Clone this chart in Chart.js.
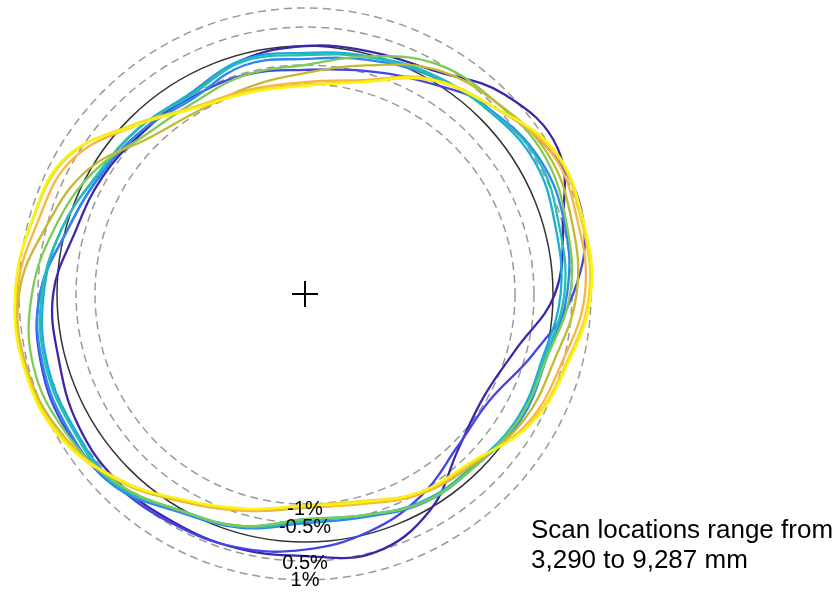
<!DOCTYPE html>
<html>
<head>
<meta charset="utf-8">
<script src="https://cdn.jsdelivr.net/npm/chart.js@4.4.1/dist/chart.umd.min.js"></script>
<style>
  html, body { margin: 0; padding: 0; background: #fff; }
  #wrap { width: 840px; height: 592px; }
</style>
</head>
<body>
<div id="wrap"><canvas id="ovalChart" width="840" height="592"></canvas></div>
<script>
// angles (deg, counter-clockwise from the right) where each scan was read
const angles = [0, 15, 30, 45, 60, 75, 90, 105, 120, 135, 150, 165,
                180, 195, 210, 225, 240, 255, 270, 285, 300, 315, 330, 345];

// radial deviation from the nominal radius, in %
const scanA = [0.05, 0.5, 1.15, 0.9, 0.26, 0.08, 0.0, -0.15, -0.45, -0.5, -0.37, -0.26, 0.1, 0.18, 0.37, 0.45, 0.4, 0.4, 0.37, 0.52, 0.05, -0.8, -1.1, -0.8];
const scanB = [0.53, 1.05, 0.95, 0.45, -0.1, -0.45, -0.63, -0.55, -0.55, -0.45, -0.3, -0.05, 0.45, 0.66, 0.7, 0.55, 0.45, 0.38, 0.2, -0.05, -0.4, -0.85, -0.92, -0.33];
const scanC = [0.37, 0.55, 0.6, 0.35, 0.1, -0.15, -0.34, -0.3, -0.6, -0.45, -0.3, -0.05, 0.45, 0.62, 0.65, 0.6, 0.1, -0.15, -0.5, -0.45, -0.2, -0.15, 0.05, 0.05];
const scanD = [0.2, 0.3, 0.45, 0.3, 0.15, -0.05, -0.18, -0.15, -0.45, -0.35, -0.24, 0.1, 0.35, 0.5, 0.5, 0.5, 0.05, -0.2, -0.6, -0.5, -0.25, -0.2, -0.05, -0.05];
const scanE = [0.3, 0.4, 0.55, 0.32, 0.12, -0.08, -0.24, -0.2, -0.5, -0.34, -0.22, 0.1, 0.4, 0.55, 0.55, 0.55, 0.05, -0.18, -0.55, -0.5, -0.22, -0.2, 0.0, 0.0];
const scanF = [0.45, 0.6, 0.75, 0.6, 0.45, -0.05, -0.5, -0.55, -0.7, -0.6, -0.1, 0.28, 0.66, 0.87, 0.75, 0.5, 0.05, -0.2, -0.6, -0.5, -0.22, -0.15, 0.0, 0.05];
const scanG = [0.62, 0.75, 0.85, 0.6, 0.3, -0.3, -0.71, -0.88, -0.95, -0.72, 0.05, 0.5, 1.0, 1.05, 0.85, 0.42, -0.2, -0.62, -0.9, -0.82, -0.45, -0.22, 0.12, 0.26];
const scanH = [0.84, 0.9, 0.95, 0.45, 0.02, -0.7, -0.95, -0.95, -0.82, -0.25, 0.55, 0.76, 1.05, 1.08, 0.92, 0.42, -0.22, -0.62, -0.92, -0.8, -0.45, -0.25, 0.25, 0.47];
const scanI = [0.95, 1.0, 1.02, 0.45, -0.02, -0.75, -1.02, -1.0, -0.84, -0.2, 0.68, 0.9, 1.1, 1.1, 0.9, 0.38, -0.25, -0.66, -0.97, -0.88, -0.5, -0.28, 0.3, 0.58];
const scanJ = [1.0, 1.05, 1.05, 0.45, 0.0, -0.75, -1.05, -1.03, -0.86, -0.25, 0.72, 0.92, 1.1, 1.12, 0.95, 0.4, -0.26, -0.68, -0.95, -0.85, -0.5, -0.3, 0.33, 0.63];

const scans = [scanA, scanB, scanC, scanD, scanE, scanF, scanG, scanH, scanI, scanJ];
const scanColors = ['#3e26a8', '#4545e6', '#2b88f0', '#17aedc', '#27bdb3', '#7ecb58', '#c4b92f', '#fbb43c', '#f6d62a', '#f8f50f'];

// reference rings (% deviation) and their labels
const ringLevels = [-1, -0.5, 0.5, 1];
const ringLabels = ['-1%', '-0.5%', '0.5%', '1%'];
const noteLines = ['Scan locations range from', '3,290 to 9,287 mm'];

// plot radius units per 1 % of deviation (exaggerated view)
const EXAG = 0.1532;
const labelNudge = [5, 4, 2, 0];

// polar -> x/y, with wrap points at both ends so the spline closes smoothly
function toPoints(devs) {
    const pts = devs.map((d, i) => {
        const t = angles[i] * Math.PI / 180;
        const r = 1 + d * EXAG;
        return { x: r * Math.cos(t), y: r * Math.sin(t) };
    });
    const n = pts.length;
    return [pts[n - 1], ...pts, pts[0], pts[1]];
}

const overlay = {
    id: 'overlay',
    beforeDatasetsDraw(chart) {
        const { ctx, scales: { x, y } } = chart;
        const cx = x.getPixelForValue(0), cy = y.getPixelForValue(0);
        const unit = x.getPixelForValue(1) - cx;
        ctx.save();
        ctx.lineWidth = 1.5;
        ctx.strokeStyle = '#999999';
        ctx.setLineDash([8, 5]);
        ringLevels.forEach(p => {
            ctx.beginPath();
            ctx.arc(cx, cy, (1 + p * EXAG) * unit, 0, 2 * Math.PI);
            ctx.stroke();
        });
        ctx.setLineDash([]);
        ctx.strokeStyle = '#333333';
        ctx.beginPath();
        ctx.arc(cx, cy, unit, 0, 2 * Math.PI);
        ctx.stroke();
        ctx.restore();
    },
    afterDatasetsDraw(chart) {
        const { ctx, scales: { x, y } } = chart;
        const cx = x.getPixelForValue(0), cy = y.getPixelForValue(0);
        const unit = x.getPixelForValue(1) - cx;
        ctx.save();
        // centre mark
        ctx.strokeStyle = '#000';
        ctx.lineWidth = 2;
        ctx.beginPath();
        ctx.moveTo(cx - 13, cy); ctx.lineTo(cx + 13, cy);
        ctx.moveTo(cx, cy - 13); ctx.lineTo(cx, cy + 13);
        ctx.stroke();
        // ring labels
        ctx.fillStyle = '#000';
        ctx.font = '20px "Liberation Sans", Arial, sans-serif';
        ctx.textAlign = 'center';
        ctx.textBaseline = 'middle';
        ringLevels.forEach((p, i) => {
            ctx.fillText(ringLabels[i], cx, cy + (1 + p * EXAG) * unit + labelNudge[i]);
        });
        // note
        ctx.font = '26px "Liberation Sans", Arial, sans-serif';
        ctx.textAlign = 'left';
        ctx.textBaseline = 'alphabetic';
        ctx.fillText(noteLines[0], 531, 538);
        ctx.fillText(noteLines[1], 531, 568);
        ctx.restore();
    }
};

const ctx = document.getElementById('ovalChart').getContext('2d');
const lastSeg = angles.length + 1;
const ovalChart = new Chart(ctx, {
    type: 'scatter',
    data: {
        datasets: scans.map((s, i) => ({
            data: toPoints(s),
            showLine: true,
            borderColor: scanColors[i],
            borderWidth: 2.3,
            pointRadius: 0,
            tension: 0.4,
            fill: false,
            order: scans.length - i,
            // hide the two helper segments used only to shape the closing spline
            segment: {
                borderColor: c => (c.p0DataIndex === 0 || c.p0DataIndex === lastSeg) ? 'rgba(0,0,0,0)' : undefined
            }
        }))
    },
    options: {
        responsive: false,
        animation: false,
        devicePixelRatio: 1,
        layout: { padding: 0 },
        plugins: { legend: { display: false }, tooltip: { enabled: false } },
        scales: {
            x: { type: 'linear', display: false, min: -305 / 248, max: 535 / 248 },
            y: { type: 'linear', display: false, min: -298 / 248, max: 294 / 248 }
        }
    },
    plugins: [overlay]
});
</script>
</body>
</html>
